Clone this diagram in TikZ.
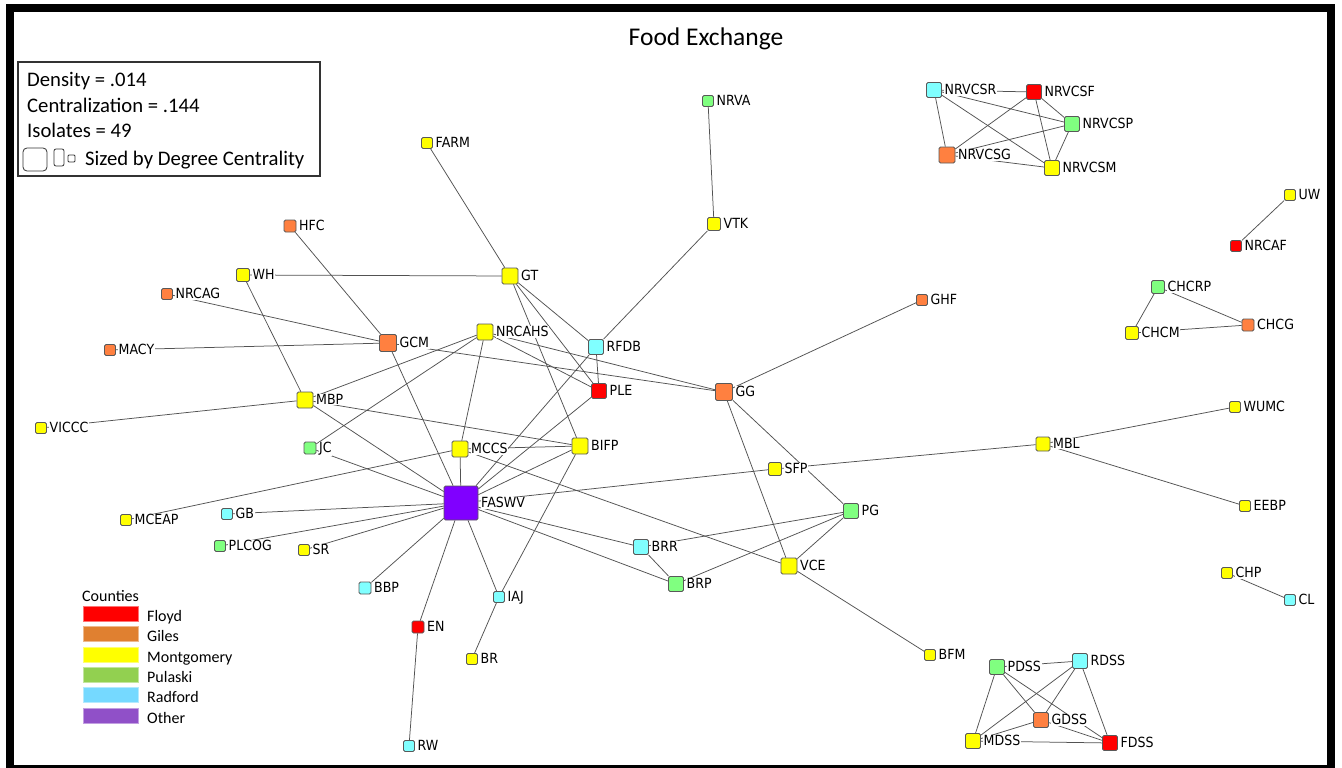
\documentclass[tikz,border=0pt]{standalone}
\usepackage{fontspec}
\setmainfont{Carlito}
\newfontfamily\lblfont[FakeStretch=0.9]{DejaVu Sans}
\pgfdeclarelayer{paper}
\pgfdeclarelayer{edgelayer}
\pgfsetlayers{paper,edgelayer,main}

% node fills by county
\definecolor{nRed}{RGB}{255,0,0}
\definecolor{nOrange}{RGB}{255,128,64}
\definecolor{nYellow}{RGB}{255,255,0}
\definecolor{nGreen}{RGB}{128,255,128}
\definecolor{nCyan}{RGB}{128,255,255}
\definecolor{nPurple}{RGB}{128,0,255}
% legend swatches
\definecolor{kFloyd}{RGB}{255,0,0}
\definecolor{kGiles}{RGB}{224,128,48}
\definecolor{kMont}{RGB}{255,255,0}
\definecolor{kPulaski}{RGB}{146,208,80}
\definecolor{kRadford}{RGB}{117,217,255}
\definecolor{kOther}{RGB}{144,80,200}

\tikzset{
  org/.style={draw=black!65, rounded corners=1.5pt, inner sep=0pt, line width=0.75pt},
  tag/.style={font=\lblfont\fontsize{14}{15}\selectfont, fill=white, inner sep=0.6pt,
              anchor=base west, text=black},
  link/.style={draw=black!68, line width=0.75pt},
  stat/.style={anchor=base west, inner sep=0pt, font=\fontsize{20.7}{24}\selectfont},
  keytext/.style={anchor=base west, inner sep=0pt, font=\fontsize{16}{19}\selectfont},
  swatch/.style={minimum width=55pt, minimum height=15pt, inner sep=0pt, line width=0.6pt},
  sizebox/.style={draw=black!80, line width=0.8pt, inner sep=0pt, fill=white},
}
\newcommand\orgbox[5]{\node[org, minimum size=#4pt, fill=#5] (#1) at (#2,#3) {};}
\newcommand\orgtag[2]{\node[tag] (#1-tag) at ([xshift=2pt,yshift=-4.8pt]#1.east) {#2};}

\begin{document}
\begin{tikzpicture}[x=1pt,y=-1pt]
\useasboundingbox (0,0) rectangle (1342,768);
\begin{pgfonlayer}{paper}
\fill[white] (0,0) rectangle (1342,768);
\end{pgfonlayer}

% outer frame
\draw[line width=8pt] (10,8.5) rectangle (1331,769);

% title
\node[anchor=base, inner sep=0pt, font=\fontsize{25.5}{30}\selectfont] (title) at (706,46) {Food Exchange};

% statistics box
\draw[draw=black!80, line width=1.2pt] (18,62) rectangle (320,176);
\node[stat] (dens) at (27,86) {Density = .014};
\node[stat] (cent) at (27,112) {Centralization = .144};
\node[stat] (isol) at (27,137) {Isolates = 49};
\node[sizebox, rounded corners=4pt, minimum width=24pt, minimum height=23pt] (szL) at (35,159.5) {};
\node[sizebox, rounded corners=2pt, minimum width=10pt, minimum height=17pt] (szM) at (59,157.5) {};
\node[sizebox, rounded corners=1pt, minimum width=7pt, minimum height=7pt] (szS) at (71.5,158.5) {};
\node[stat] (sized) at (85,165) {Sized by Degree Centrality};

% county key
\node[keytext] (ctitle) at (82,601) {Counties};
\foreach \c/\t [count=\i from 0] in {kFloyd/Floyd,kGiles/Giles,kMont/Montgomery,kPulaski/Pulaski,kRadford/Radford,kOther/Other}{
  \node[swatch, fill=\c, draw=\c!55!white] (sw\i) at (110.5,613.5+20.4*\i) {};
  \node[keytext] (swt\i) at (147,621.3+20.4*\i) {\t};
}

% organisations
\orgbox{FARM}{427}{143}{11}{nYellow}
\orgbox{NRVA}{708}{101}{11}{nGreen}
\orgbox{VTK}{714}{224}{13}{nYellow}
\orgbox{HFC}{290}{226}{12}{nOrange}
\orgbox{WH}{243}{275}{13}{nYellow}
\orgbox{GT}{510}{276}{16}{nYellow}
\orgbox{NRCAG}{167}{294}{11}{nOrange}
\orgbox{GHF}{922}{300}{11}{nOrange}
\orgbox{GCM}{388}{343}{17}{nOrange}
\orgbox{NRCAHS}{485}{332}{16}{nYellow}
\orgbox{RFDB}{596}{347}{15}{nCyan}
\orgbox{MACY}{110}{350}{11}{nOrange}
\orgbox{PLE}{599}{391}{15}{nRed}
\orgbox{GG}{724}{392}{17}{nOrange}
\orgbox{MBP}{305}{400}{16}{nYellow}
\orgbox{VICCC}{41}{428}{11}{nYellow}
\orgbox{JC}{310}{448}{12}{nGreen}
\orgbox{MCCS}{460}{449}{16}{nYellow}
\orgbox{BIFP}{580}{446}{16}{nYellow}
\orgbox{SFP}{775}{469}{13}{nYellow}
\orgbox{MBL}{1043}{444}{14}{nYellow}
\orgbox{WUMC}{1235}{407}{11}{nYellow}
\orgbox{FASWV}{461}{503}{34}{nPurple}
\orgbox{PG}{851}{511}{15}{nGreen}
\orgbox{EEBP}{1245}{506}{11}{nYellow}
\orgbox{MCEAP}{126}{520}{11}{nYellow}
\orgbox{GB}{227}{514}{11}{nCyan}
\orgbox{PLCOG}{220}{546}{11}{nGreen}
\orgbox{SR}{304}{550}{11}{nYellow}
\orgbox{BRR}{641}{547}{15}{nCyan}
\orgbox{VCE}{789}{566}{16}{nYellow}
\orgbox{BRP}{676}{584}{15}{nGreen}
\orgbox{BBP}{365}{588}{12}{nCyan}
\orgbox{IAJ}{499}{597}{11}{nCyan}
\orgbox{EN}{418}{627}{12}{nRed}
\orgbox{BR}{472}{659}{11}{nYellow}
\orgbox{BFM}{930}{655}{11}{nYellow}
\orgbox{RW}{409}{746}{11}{nCyan}
\orgbox{CHP}{1227}{573}{11}{nYellow}
\orgbox{CL}{1290}{600}{11}{nCyan}
\orgbox{NRVCSR}{934}{90}{15}{nCyan}
\orgbox{NRVCSF}{1034}{92}{15}{nRed}
\orgbox{NRVCSP}{1072}{124}{15}{nGreen}
\orgbox{NRVCSG}{947}{155}{16}{nOrange}
\orgbox{NRVCSM}{1052}{168}{15}{nYellow}
\orgbox{UW}{1290}{195}{11}{nYellow}
\orgbox{NRCAF}{1236}{246}{11}{nRed}
\orgbox{CHCRP}{1158}{287}{13}{nGreen}
\orgbox{CHCM}{1132}{333}{13}{nYellow}
\orgbox{CHCG}{1248}{325}{12}{nOrange}
\orgbox{PDSS}{997}{667}{15}{nGreen}
\orgbox{RDSS}{1080}{661}{15}{nCyan}
\orgbox{GDSS}{1041}{720}{15}{nOrange}
\orgbox{MDSS}{973}{741}{15}{nYellow}
\orgbox{FDSS}{1110}{743}{15}{nRed}

% labels
\foreach \n in {FARM,NRVA,VTK,HFC,WH,GT,NRCAG,GHF,GCM,NRCAHS,RFDB,MACY,PLE,GG,MBP,VICCC,JC,MCCS,BIFP,SFP,MBL,WUMC,FASWV,PG,EEBP,MCEAP,GB,PLCOG,SR,BRR,VCE,BRP,BBP,IAJ,EN,BR,BFM,RW,CHP,CL,NRVCSR,NRVCSF,NRVCSP,NRVCSG,NRVCSM,UW,NRCAF,CHCRP,CHCM,CHCG,PDSS,RDSS,GDSS,MDSS,FDSS}{
  \orgtag{\n}{\n}
}

% ties
\begin{pgfonlayer}{edgelayer}
\foreach \a/\b in {FARM/GT, NRVA/VTK, VTK/RFDB, HFC/GCM, WH/GT, WH/MBP, NRCAG/GCM, MACY/GCM,
  GCM/FASWV, GCM/GG, GT/RFDB, GT/PLE, GT/BIFP, NRCAHS/MBP, NRCAHS/JC, NRCAHS/MCCS,
  NRCAHS/PLE, NRCAHS/GG, RFDB/PLE, RFDB/FASWV, PLE/FASWV, MBP/VICCC, MBP/FASWV, MBP/BIFP,
  JC/FASWV, MCCS/FASWV, MCCS/BIFP, MCCS/MCEAP, MCCS/VCE, BIFP/FASWV, BIFP/IAJ,
  FASWV/SFP, SFP/MBL, GG/GHF, GG/PG, GG/VCE, PG/BRR, PG/BRP, PG/VCE, VCE/BFM, BRR/BRP,
  FASWV/BRR, FASWV/BRP, FASWV/GB, FASWV/PLCOG, FASWV/SR, FASWV/BBP, FASWV/EN, FASWV/IAJ,
  EN/RW, IAJ/BR, MBL/WUMC, MBL/EEBP, UW/NRCAF, CHP/CL,
  CHCRP/CHCM, CHCRP/CHCG, CHCM/CHCG,
  NRVCSR/NRVCSF, NRVCSR/NRVCSP, NRVCSR/NRVCSG, NRVCSR/NRVCSM, NRVCSF/NRVCSP,
  NRVCSF/NRVCSG, NRVCSF/NRVCSM, NRVCSP/NRVCSG, NRVCSP/NRVCSM, NRVCSG/NRVCSM,
  PDSS/RDSS, PDSS/MDSS, PDSS/GDSS, PDSS/FDSS, RDSS/MDSS, RDSS/GDSS, RDSS/FDSS,
  GDSS/MDSS, GDSS/FDSS, MDSS/FDSS}{
  \draw[link] (\a) -- (\b);
}
\end{pgfonlayer}
\end{tikzpicture}
\end{document}
